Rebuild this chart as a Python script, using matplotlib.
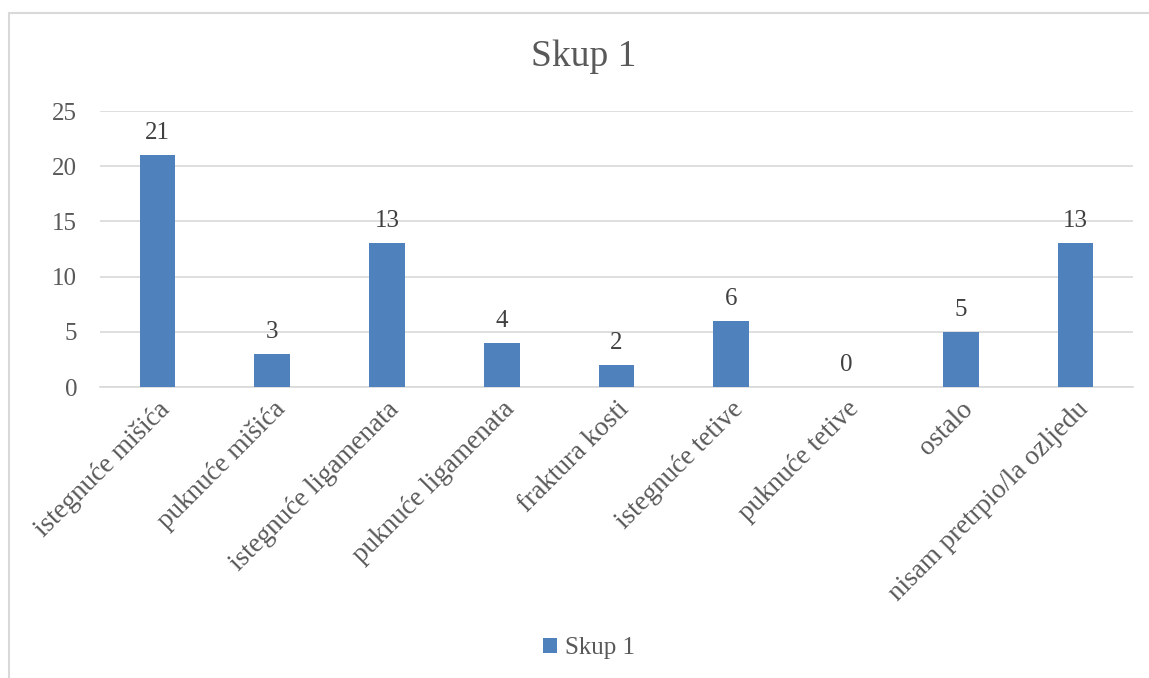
import matplotlib
matplotlib.use("Agg")
import matplotlib.pyplot as plt
from matplotlib.patches import Rectangle

categories = ["istegnuće mišića", "puknuće mišića", "istegnuće ligamenata",
              "puknuće ligamenata", "fraktura kosti", "istegnuće tetive",
              "puknuće tetive", "ostalo", "nisam pretrpio/la ozljedu"]
values = [21, 3, 13, 4, 2, 6, 0, 5, 13]
series_name = "Skup 1"
yticks = [0, 5, 10, 15, 20, 25]

plt.rcParams['font.family'] = ['Liberation Serif', 'DejaVu Serif']
W, H = 1149, 678
fig = plt.figure(figsize=(W/100, H/100), dpi=100)
fig.patch.set_facecolor("white")
fig.add_artist(Rectangle((9/W, -0.01), 1.02, 1 - 13/H + 0.01, transform=fig.transFigure,
                         fill=False, edgecolor="#D9D9D9", linewidth=1.5))

ax = fig.add_axes([100/W, 1 - 387/H, 1033/W, (387-111)/H])
x = list(range(len(categories)))
bars = ax.bar(x, values, width=0.31, color="#4F81BD", label=series_name, zorder=3)
ax.set_xlim(-0.5, len(categories) - 0.5)
ax.set_ylim(0, 25)
ax.set_yticks(yticks)
ax.yaxis.grid(True, color="#D9D9D9", linewidth=1.2, zorder=0)
for s in ["top", "right", "left"]:
    ax.spines[s].set_visible(False)
ax.spines["bottom"].set_color("#D9D9D9")
ax.spines["bottom"].set_linewidth(1.2)
ax.tick_params(axis="both", length=0, labelcolor="#595959")
ax.tick_params(axis="y", pad=16.5, labelsize=18)
ax.set_xticks(x)
ax.set_xticklabels(categories, rotation=45, ha="right", va="top", rotation_mode="anchor")
ax.tick_params(axis="x", pad=7, labelsize=19.5)
for b, v in zip(bars, values):
    ax.annotate(str(v), (b.get_x() + b.get_width()/2, v), xytext=(0, 8),
                textcoords="offset points", ha="center", va="bottom",
                fontsize=18, color="#404040")

fig.text(584/W, 1 - 57/H, "Skup 1", ha="center", va="center", fontsize=27, color="#595959")
leg = fig.legend(handles=[bars], labels=[series_name], loc="center",
                 bbox_to_anchor=(589/W, 1 - 648/H), frameon=False, fontsize=18,
                 handlelength=0.55, handleheight=0.55, handletextpad=0.35)
for t in leg.get_texts():
    t.set_color("#595959")

fig.savefig("out.png", dpi=100)
